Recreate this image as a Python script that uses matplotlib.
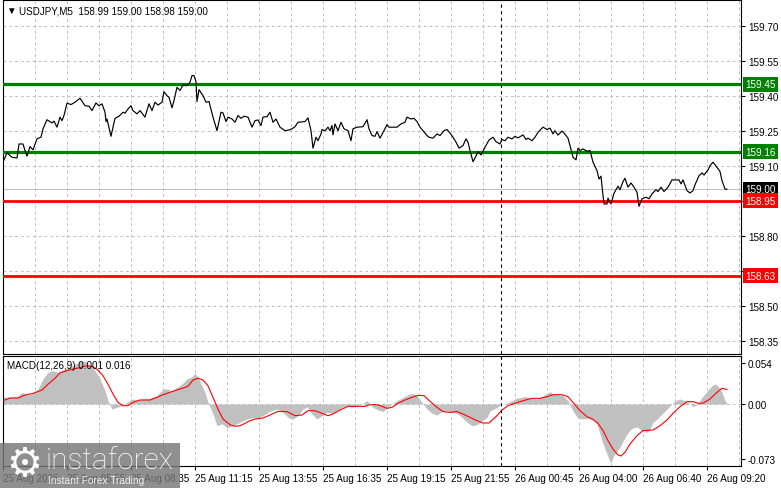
import matplotlib
matplotlib.use("Agg")
import matplotlib.pyplot as plt
from matplotlib.patches import Rectangle

plt.rcParams['font.family'] = ['Liberation Sans', 'DejaVu Sans']
plt.rcParams['font.size'] = 7.1

# close prices, USDJPY M5 (bar index from the left edge, price)
price_bar = [0, 2, 4.5, 7, 8, 10, 11, 12, 13.5, 15,
             17, 19, 20, 22, 24.5, 25.5, 27, 28.5, 29.5, 30.5,
             32, 34, 36, 38.5, 41, 43, 44.5, 46.5, 48, 49.5,
             51, 51.5, 52, 54, 56, 58, 60, 61, 62.5, 64,
             65, 67, 68.5, 71, 73, 74.5, 76, 77.5, 79.5, 80.5,
             82, 83, 84.5, 85.5, 87, 88.5, 90, 92, 93.5, 94.5,
             95.5, 96.5, 97, 98, 100, 101.5, 103, 105, 107, 109,
             110, 111.5, 112.5, 114.5, 116, 117.5, 119, 120.5, 122.5, 124.5,
             126, 127.5, 129, 130, 132, 133.5, 135, 136.5, 138.5, 141,
             143, 144.5, 146, 147.5, 151, 152.5, 154, 155, 156.5, 157.5,
             159, 159.5, 161, 162.5, 163.5, 164.5, 165, 166, 167.5, 169,
             170.5, 172.5, 174, 175, 177, 180, 182, 183, 184.5, 186,
             187, 188.5, 190.5, 192, 193, 197, 199, 201, 202, 204,
             205.5, 207, 208.5, 210, 212, 213, 215, 217, 218.5, 220.5,
             222, 223.5, 225, 226.5, 228, 230, 231.5, 232.5, 233.5, 235,
             236.5, 237.5, 239, 241, 243, 245, 246.5, 248.5, 249.5, 251,
             252.5, 254.5, 256, 257.5, 260, 261.5, 262.5, 264.5, 266, 267.5,
             270, 272, 273.5, 275, 276, 277.5, 279.5, 280.5, 282.5, 283.5,
             285, 286.5, 287.5, 288.5, 290, 292, 293.5, 295, 297, 298,
             299, 300, 300.5, 302, 302.5, 304, 305.5, 307.5, 308.5, 310,
             311, 312.5, 314, 315.5, 317, 318, 319.5, 321.5, 323, 324.5,
             326.5, 327.5, 329, 330.5, 332.5, 334.5, 338, 339, 340, 342,
             343.5, 345, 346, 348, 349.5, 350.5, 352.5, 353.5, 355, 357,
             358.5, 359.5, 361, 362]
price_val = [159.116, 159.156, 159.137, 159.134, 159.194, 159.194, 159.166, 159.142, 159.183, 159.169,
             159.216, 159.223, 159.259, 159.298, 159.284, 159.292, 159.266, 159.309, 159.294, 159.316,
             159.369, 159.363, 159.373, 159.390, 159.358, 159.356, 159.337, 159.370, 159.358, 159.366,
             159.330, 159.290, 159.301, 159.227, 159.304, 159.313, 159.330, 159.326, 159.344, 159.358,
             159.337, 159.323, 159.337, 159.309, 159.366, 159.337, 159.373, 159.361, 159.373, 159.418,
             159.401, 159.394, 159.349, 159.380, 159.437, 159.423, 159.447, 159.444, 159.459, 159.487,
             159.487, 159.461, 159.376, 159.427, 159.401, 159.373, 159.376, 159.309, 159.251, 159.330,
             159.327, 159.290, 159.309, 159.301, 159.287, 159.316, 159.304, 159.313, 159.309, 159.266,
             159.294, 159.297, 159.273, 159.309, 159.311, 159.330, 159.287, 159.301, 159.266, 159.251,
             159.254, 159.259, 159.268, 159.287, 159.290, 159.306, 159.251, 159.176, 159.223, 159.208,
             159.237, 159.256, 159.251, 159.266, 159.251, 159.273, 159.233, 159.280, 159.251, 159.287,
             159.259, 159.251, 159.208, 159.259, 159.266, 159.268, 159.298, 159.259, 159.230, 159.227,
             159.247, 159.219, 159.251, 159.277, 159.266, 159.266, 159.280, 159.287, 159.309, 159.301,
             159.304, 159.290, 159.266, 159.251, 159.230, 159.223, 159.219, 159.237, 159.230, 159.251,
             159.256, 159.241, 159.223, 159.202, 159.176, 159.187, 159.216, 159.202, 159.166, 159.118,
             159.142, 159.161, 159.147, 159.180, 159.211, 159.223, 159.204, 159.194, 159.213, 159.208,
             159.223, 159.216, 159.227, 159.220, 159.233, 159.213, 159.219, 159.208, 159.223, 159.244,
             159.266, 159.256, 159.262, 159.237, 159.251, 159.232, 159.249, 159.241, 159.219, 159.187,
             159.137, 159.126, 159.176, 159.166, 159.173, 159.163, 159.166, 159.116, 159.080, 159.044,
             159.056, 158.973, 158.937, 158.937, 158.962, 158.937, 158.983, 159.013, 158.998, 159.033,
             159.047, 159.009, 159.027, 159.009, 158.987, 158.927, 158.959, 158.966, 158.959, 158.980,
             158.998, 158.990, 159.009, 158.990, 159.009, 159.040, 159.040, 159.023, 159.040, 158.994,
             158.984, 158.994, 159.019, 159.058, 159.070, 159.061, 159.083, 159.101, 159.116, 159.094,
             159.076, 159.037, 159.001, 159.000]

# MACD(12,26,9) main values (grey histogram)
hist_bar = [0, 7, 9.5, 12, 15, 17.5, 20, 22.5, 25, 27.5,
            30, 32.5, 35, 38.5, 41, 43.5, 46, 48.5, 51, 52.5,
            54.5, 57, 59.5, 62, 64.5, 67, 70, 73.5, 77, 80,
            82, 84.5, 87, 89.5, 92, 94.5, 96, 97.5, 99.5, 101,
            102.5, 105, 107, 109.5, 112, 115, 118.5, 122, 124.5, 127.5,
            130, 132.5, 135, 137.5, 140, 142.5, 145, 147.5, 150, 152,
            154.5, 157, 159.5, 162, 164.5, 167, 169.5, 172, 174.5, 177,
            179.5, 182, 183.5, 185, 187.5, 190, 192.5, 195, 197.5, 200,
            202.5, 205, 207, 209.5, 212, 214.5, 217, 219.5, 222, 224.5,
            227, 229.5, 232, 234.5, 237, 239.5, 242, 243.5, 247, 249.5,
            252, 254.5, 257, 259.5, 261, 263.5, 267, 269.5, 272, 273.5,
            275, 277.5, 280, 282.5, 284.5, 286, 287.5, 290, 292.5, 295,
            297, 298.5, 300, 302, 303, 304, 305, 306.5, 308.5, 310,
            312, 313.5, 315, 317, 319.5, 322, 323.5, 325, 327, 329.5,
            332, 334.5, 336, 338.5, 341, 343.5, 345, 347, 349.5, 352,
            354.5, 356, 357.5, 359.5, 361, 362]
hist_val = [0.0090, 0.0096, 0.0154, 0.0123, 0.0140, 0.0198, 0.0330, 0.0418, 0.0440, 0.0418,
            0.0448, 0.0480, 0.0505, 0.0560, 0.0570, 0.0505, 0.0440, 0.0330, 0.0176, 0.0044,
            -0.0066, -0.0044, -0.0022, 0.0022, 0.0066, 0.0053, 0.0066, 0.0075, 0.0110, 0.0198,
            0.0200, 0.0176, 0.0220, 0.0264, 0.0330, 0.0360, 0.0404, 0.0350, 0.0240, 0.0154,
            0.0022, -0.0132, -0.0286, -0.0260, -0.0310, -0.0286, -0.0240, -0.0198, -0.0180, -0.0176,
            -0.0154, -0.0110, -0.0079, -0.0066, -0.0110, -0.0176, -0.0198, -0.0154, -0.0066, -0.0035,
            -0.0132, -0.0198, -0.0154, -0.0110, -0.0120, -0.0088, -0.0044, -0.0022, -0.0044, -0.0022,
            0.0, 0.0044, 0.0, -0.0044, -0.0079, -0.0097, -0.0044, 0.0010, 0.0053, 0.0088,
            0.0123, 0.0140, 0.0110, 0.0022, -0.0066, -0.0123, -0.0145, -0.0097, -0.0088, -0.0110,
            -0.0123, -0.0176, -0.0240, -0.0286, -0.0273, -0.0220, -0.0176, -0.0090, -0.0044, 0.0,
            0.0010, 0.0044, 0.0079, 0.0088, 0.0101, 0.0079, 0.0066, 0.0097, 0.0140, 0.0163,
            0.0132, 0.0123, 0.0110, 0.0044, -0.0066, -0.0132, -0.0185, -0.0198, -0.0190, -0.0210,
            -0.0264, -0.0395, -0.0527, -0.0660, -0.0725, -0.0780, -0.0700, -0.0637, -0.0570, -0.0490,
            -0.0395, -0.0343, -0.0316, -0.0300, -0.0350, -0.0373, -0.0330, -0.0240, -0.0198, -0.0132,
            -0.0066, 0.0, 0.0044, 0.0066, 0.0044, 0.0, -0.0035, -0.0009, 0.0088, 0.0167,
            0.0240, 0.0264, 0.0240, 0.0154, 0.0044, 0.0013]

# MACD signal line (red)
sig_bar = [0, 3.5, 7.5, 11, 15, 19.5, 22.5, 26, 28.5, 32,
           35, 38.5, 42, 45, 47.5, 50, 52.5, 55, 57.5, 60,
           62.5, 65, 68.5, 73.5, 77, 80, 83.5, 87, 90, 92.5,
           95, 97.5, 100, 102.5, 105, 107.5, 110, 113.5, 116, 118.5,
           121, 123, 126, 130, 133.5, 137.5, 142, 146, 149.5, 152.5,
           156, 159.5, 162.5, 165, 168.5, 172.5, 177, 181, 183.5, 187,
           189.5, 192, 194.5, 197.5, 201, 204.5, 207.5, 210.5, 213.5, 217,
           220, 223.5, 227, 230, 233.5, 237, 240, 243, 247, 249.5,
           252.5, 256, 260, 264.5, 268.5, 272, 275, 279.5, 282.5, 285,
           288.5, 292, 295, 297.5, 300, 302.5, 305, 307.5, 309, 311,
           313.5, 317, 320, 325, 328.5, 332, 335, 338.5, 342, 345,
           347.5, 350, 353.5, 357, 359.5, 362]
sig_val = [0.0044, 0.0079, 0.0079, 0.0119, 0.0140, 0.0185, 0.0260, 0.0340, 0.0410, 0.0440,
           0.0460, 0.0480, 0.0505, 0.0490, 0.0448, 0.0373, 0.0260, 0.0132, 0.0022, -0.0022,
           -0.0022, 0.0022, 0.0053, 0.0053, 0.0088, 0.0123, 0.0154, 0.0185, 0.0210, 0.0233,
           0.0316, 0.0340, 0.0316, 0.0240, 0.0088, -0.0066, -0.0198, -0.0273, -0.0294, -0.0286,
           -0.0255, -0.0225, -0.0198, -0.0185, -0.0145, -0.0097, -0.0100, -0.0154, -0.0145, -0.0088,
           -0.0088, -0.0123, -0.0154, -0.0132, -0.0079, -0.0031, -0.0031, -0.0031, -0.0009, -0.0009,
           -0.0031, -0.0057, -0.0044, 0.0010, 0.0053, 0.0088, 0.0114, 0.0110, 0.0035, -0.0044,
           -0.0100, -0.0110, -0.0100, -0.0132, -0.0176, -0.0220, -0.0250, -0.0250, -0.0154, -0.0079,
           -0.0022, 0.0010, 0.0044, 0.0075, 0.0075, 0.0097, 0.0123, 0.0123, 0.0097, 0.0022,
           -0.0088, -0.0167, -0.0202, -0.0255, -0.0350, -0.0483, -0.0593, -0.0672, -0.0685, -0.0637,
           -0.0527, -0.0417, -0.0350, -0.0343, -0.0286, -0.0210, -0.0123, -0.0035, 0.0031, 0.0031,
           0.0010, 0.0010, 0.0066, 0.0154, 0.0207, 0.0193]

time_ticks = [0, 32, 64, 96, 128, 160, 192, 224, 256, 288, 320, 352]
time_labels = ["25 Aug 2026", "25 Aug 05:55", "25 Aug 08:35", "25 Aug 11:15",
               "25 Aug 13:55", "25 Aug 16:35", "25 Aug 19:15", "25 Aug 21:55",
               "26 Aug 00:45", "26 Aug 04:00", "26 Aug 06:40", "26 Aug 09:20"]
price_grid = [159.70, 159.55, 159.40, 159.25, 159.10, 158.95, 158.80, 158.65, 158.50, 158.35]
price_labels = ["159.70", "159.55", "159.40", "159.25", "159.10", "", "158.80", "", "158.50", "158.35"]
green_levels = [159.45, 159.16]
red_levels = [158.95, 158.63]
last_price = 159.00
macd_ticks = [0.054, 0.0, -0.073]
macd_labels = ["0.054", "0.00", "-0.073"]
day_separator = 249
n_bars = 369

W, H = 781, 489
fig = plt.figure(figsize=(W / 100, H / 100), dpi=100)
ax = fig.add_axes([3 / W, 1 - 355 / H, 738 / W, 354 / H])
mx = fig.add_axes([3 / W, 1 - 467 / H, 738 / W, 110 / H])

grid_kw = dict(color='#c0c0c0', lw=0.7, ls=(0, (3, 3)), zorder=1)

# --- price panel ---
ax.set_xlim(0, n_bars)
ax.set_ylim(158.294, 159.811)
for y in price_grid:
    ax.axhline(y, **grid_kw)
for b in range(16, n_bars + 1, 16):
    ax.axvline(b, **grid_kw)
    mx.axvline(b, **grid_kw)
ax.axhline(last_price, color='#c0c0c0', lw=0.8, zorder=2)
for y in green_levels:
    ax.axhline(y, color='#008000', lw=2.3, zorder=3)
for y in red_levels:
    ax.axhline(y, color='#ff0000', lw=2.0, zorder=3)
ax.plot(price_bar, price_val, color='black', lw=0.85, zorder=4)
ax.axvline(day_separator, color='black', lw=0.8, ls=(0, (3, 3)), zorder=5)

ax.yaxis.tick_right()
ax.set_yticks(price_grid)
ax.set_yticklabels(price_labels)
ax.tick_params(axis='y', direction='out', length=3, width=0.8, pad=2)
ax.tick_params(axis='x', length=0, labelbottom=False)
for s in ax.spines.values():
    s.set_linewidth(0.8)


def tag(axis, y, text, face):
    axis.annotate(text, xy=(1, y), xycoords=('axes fraction', 'data'),
                  xytext=(3, 0), textcoords='offset points', ha='left', va='center',
                  color='white', annotation_clip=False, zorder=6,
                  bbox=dict(boxstyle='square,pad=0.25', fc=face, ec='none'))


for y in green_levels:
    tag(ax, y, f"{y:.2f}", '#008000')
tag(ax, last_price, f"{last_price:.2f}", 'black')
for y in red_levels:
    tag(ax, y, f"{y:.2f}", '#ff0000')

# --- MACD panel ---
mx.set_xlim(0, n_bars)
mx.set_ylim(-0.0817, 0.0633)
mx.axhline(0, **grid_kw)
mx.fill_between(hist_bar, 0, hist_val, color='#c0c0c0', lw=0, zorder=2)
mx.plot(sig_bar, sig_val, color='#ff0000', lw=0.8, zorder=3)
mx.axvline(day_separator, color='black', lw=0.8, ls=(0, (3, 3)), zorder=5)

mx.yaxis.tick_right()
mx.set_yticks(macd_ticks)
mx.set_yticklabels(macd_labels)
mx.tick_params(axis='y', direction='out', length=3, width=0.8, pad=2)
mx.set_xticks(time_ticks)
mx.set_xticklabels(time_labels)
mx.tick_params(axis='x', direction='out', length=3, width=0.8, pad=2)
for lab in mx.get_xticklabels():
    lab.set_ha('left')
for s in mx.spines.values():
    s.set_linewidth(0.8)

# header texts
fig.text(6 / W, 1 - 11 / H, "\u25bc", fontsize=7, va='center', ha='left')
fig.text(19 / W, 1 - 11 / H, "USDJPY,M5  158.99 159.00 158.98 159.00", va='center', ha='left')
fig.text(7 / W, 1 - 366 / H, "MACD(12,26,9) 0.001 0.016", va='center', ha='left', zorder=6)

# instaforex watermark
fig.add_artist(Rectangle((0, 0), 180 / W, 45 / H, transform=fig.transFigure,
                         facecolor='#777777', alpha=0.82, lw=0, zorder=10))
fig.text(24 / W, 1 - 465 / H, "\u2699", fontsize=29, color='white', ha='center', va='center',
         family='DejaVu Sans', zorder=11)
fig.text(46 / W, 1 - 469 / H, "instaforex", fontsize=21.5, color='white', ha='left', va='baseline',
         family=['Roboto', 'DejaVu Sans'], fontweight='light', zorder=11)
fig.text(48 / W, 1 - 481 / H, "Instant Forex Trading", fontsize=7.3, color='#eeeeee',
         ha='left', va='center', zorder=11)

fig.savefig("out.png", dpi=100)
